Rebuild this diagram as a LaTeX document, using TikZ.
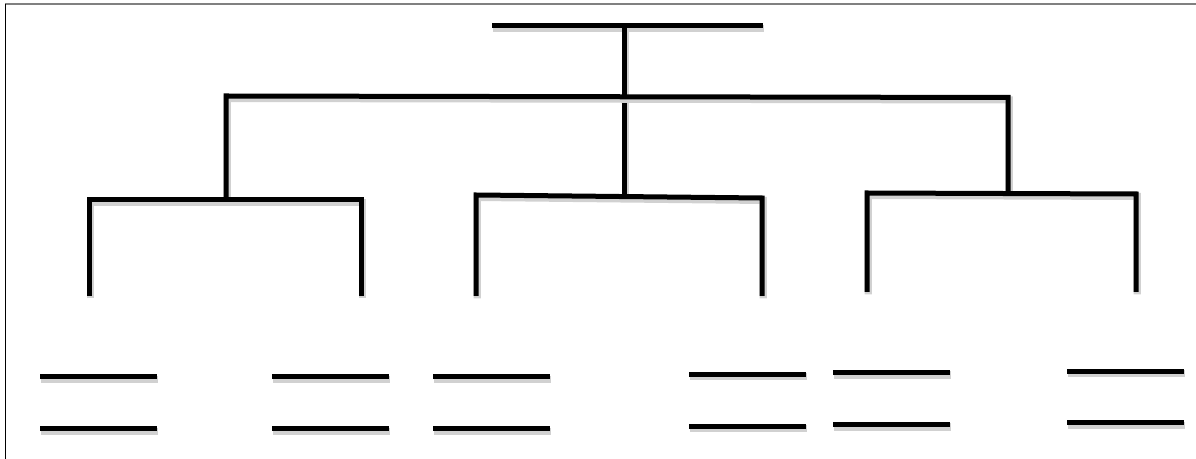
\documentclass[tikz,border=0pt]{standalone}
\begin{document}
\begin{tikzpicture}[x=0.5pt,y=-0.5pt,
  bar/.style={line width=2.5pt, line join=miter, line cap=butt, draw=black,
    preaction={draw=black!18, line width=3.6pt, transform canvas={shift={(0.6pt,-1.2pt)}}}},
  framegray/.style={draw=black!50, line width=0.7pt},
  frameblack/.style={draw=black, line width=0.5pt}]
\useasboundingbox (0,0) rectangle (1196,459);
\draw[framegray] (5,4) -- (1196,4);
\draw[frameblack] (5,4) -- (5,459);
% coordinates
\coordinate (topL) at (492,26);
\coordinate (topR) at (763,26);
\coordinate (topC) at (624,26);
\coordinate (midC) at (624,195);
\coordinate (l2L) at (226,96);
\coordinate (l2R) at (1008,97.5);
\coordinate (l2Ld) at (226,200);
\coordinate (l2Rd) at (1008,193);
% left group
\coordinate (aL) at (89,200);
\coordinate (aR) at (361,200);
\coordinate (aLd) at (89,296);
\coordinate (aRd) at (361,296);
% middle group
\coordinate (bL) at (476,195);
\coordinate (bR) at (762,198);
\coordinate (bLd) at (476,296);
\coordinate (bRd) at (762,296);
% right group
\coordinate (cL) at (867,193);
\coordinate (cR) at (1136,194);
\coordinate (cLd) at (867,292);
\coordinate (cRd) at (1136,292);
% draw tree
\draw[bar] (topL) -- (topR);
\draw[bar] (topC) -- (midC);
\draw[bar] (l2Ld) -- (l2L) -- (l2R) -- (l2Rd);
\draw[bar] (aLd) -- (aL) -- (aR) -- (aRd);
\draw[bar] (bLd) -- (bL) -- (bR) -- (bRd);
\draw[bar] (cLd) -- (cL) -- (cR) -- (cRd);
% leaf lines
\foreach \n/\xa/\xb/\ya/\yb in {p1/40/157/377/429, p2/272/389/377/429, p3/433/550/377/429,
  p4/689/806/374.5/426.5, p5/833/950/372.7/424.7, p6/1067/1184/371.3/423} {
  \coordinate (\n a1) at (\xa,\ya);
  \coordinate (\n a2) at (\xb,\ya);
  \coordinate (\n b1) at (\xa,\yb);
  \coordinate (\n b2) at (\xb,\yb);
  \draw[bar] (\n a1) -- (\n a2);
  \draw[bar] (\n b1) -- (\n b2);
}
\end{tikzpicture}
\end{document}
